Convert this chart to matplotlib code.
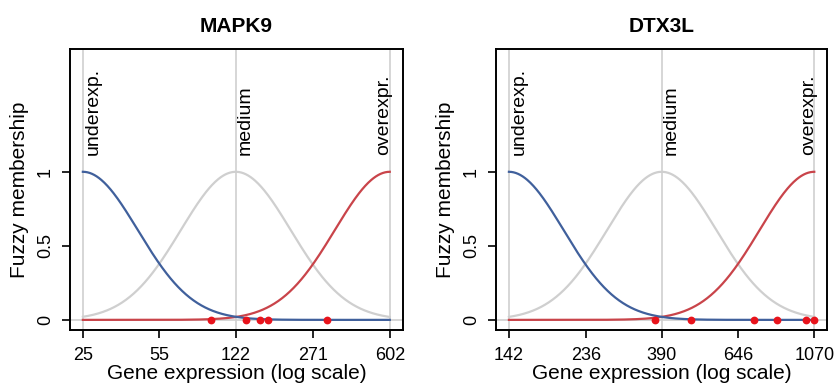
import numpy as np
import matplotlib.pyplot as plt
from matplotlib.ticker import FixedLocator, NullLocator

plt.rcParams["font.family"] = ["Liberation Sans", "DejaVu Sans"]

# ── Data ──────────────────────────────────────────────────────────────────────
genes = ["MAPK9", "DTX3L"]

# tick labels on the log axis (min, quartiles, max of log range)
mapk9_ticks = [25, 55, 122, 271, 602]
dtx3l_ticks = [142, 236, 390, 646, 1070]

# fuzzy-set centres: underexpressed, medium, overexpressed
mapk9_centres = [25, 122, 602]
dtx3l_centres = [142, 390, 1070]

# observed expression of the samples
mapk9_samples = [94, 135, 157, 171, 313]
dtx3l_samples = [372, 472, 719, 836, 1015, 1070]

set_names = ["underexp.", "medium", "overexpr."]

# Gaussian width as a fraction of the log range
sigma = 0.179

blue = "#40609c"
red = "#c9444a"
grey = "#cfcfcf"
dot = "#e8141c"


def membership(x_log, centre_log, span):
    return np.exp(-((x_log - centre_log) / span) ** 2 / (2 * sigma ** 2))


def panel(ax, title, ticks, centres, samples):
    lo, hi = np.log10(ticks[0]), np.log10(ticks[-1])
    span = hi - lo
    xs = np.linspace(lo, hi, 400)

    ax.axhline(0, color=grey, lw=1.2, zorder=1)
    for c in centres:
        ax.axvline(c, color=grey, lw=1.2, zorder=1)

    curves = [membership(xs, np.log10(c), span) for c in centres]
    ax.plot(10 ** xs, curves[1], color=grey, lw=1.6, zorder=2)
    ax.plot(10 ** xs, curves[2], color=red, lw=1.6, zorder=3)
    ax.plot(10 ** xs, curves[0], color=blue, lw=1.6, zorder=3)

    ax.plot(samples, np.zeros(len(samples)), "o", color=dot, ms=5.6,
            mec="none", zorder=5, clip_on=False)

    # labels of the three fuzzy sets along their centre lines
    offsets = [1.0, 1.0, 2.0]
    aligns = ["left", "left", "right"]
    for c, name, dx, ha in zip(centres, set_names, offsets, aligns):
        ax.annotate(name, xy=(c, 1.115), xytext=(dx, 0), textcoords="offset points",
                    rotation=90, ha=ha, va="bottom", fontsize=14)

    ax.set_xscale("log")
    pad = 0.042 * span
    ax.set_xlim(10 ** (lo - pad), 10 ** (hi + pad))
    ax.set_ylim(-0.068, 1.83)
    ax.xaxis.set_major_locator(FixedLocator(ticks))
    ax.xaxis.set_minor_locator(NullLocator())
    ax.set_xticklabels([str(t) for t in ticks])
    ax.set_yticks([0, 0.5, 1])
    ax.set_yticklabels(["0", "0.5", "1"], rotation=90, va="center")

    ax.tick_params(direction="out", length=5.5, width=1.2, labelsize=13)
    ax.tick_params(axis="x", pad=6.5)
    ax.tick_params(axis="y", pad=6)
    for s in ax.spines.values():
        s.set_linewidth(1.4)

    ax.set_title(title, fontsize=15, fontweight="bold", pad=12)
    ax.set_xlabel("Gene expression (log scale)", fontsize=15, labelpad=0)
    ax.set_ylabel("Fuzzy membership", fontsize=15, labelpad=6)


fig = plt.figure(figsize=(8.38, 3.85), dpi=100)
ax1 = fig.add_axes([0.0835, 0.143, 0.397, 0.730])
ax2 = fig.add_axes([0.592, 0.143, 0.395, 0.730])

panel(ax1, genes[0], mapk9_ticks, mapk9_centres, mapk9_samples)
panel(ax2, genes[1], dtx3l_ticks, dtx3l_centres, dtx3l_samples)

fig.savefig("out.png", dpi=100)
